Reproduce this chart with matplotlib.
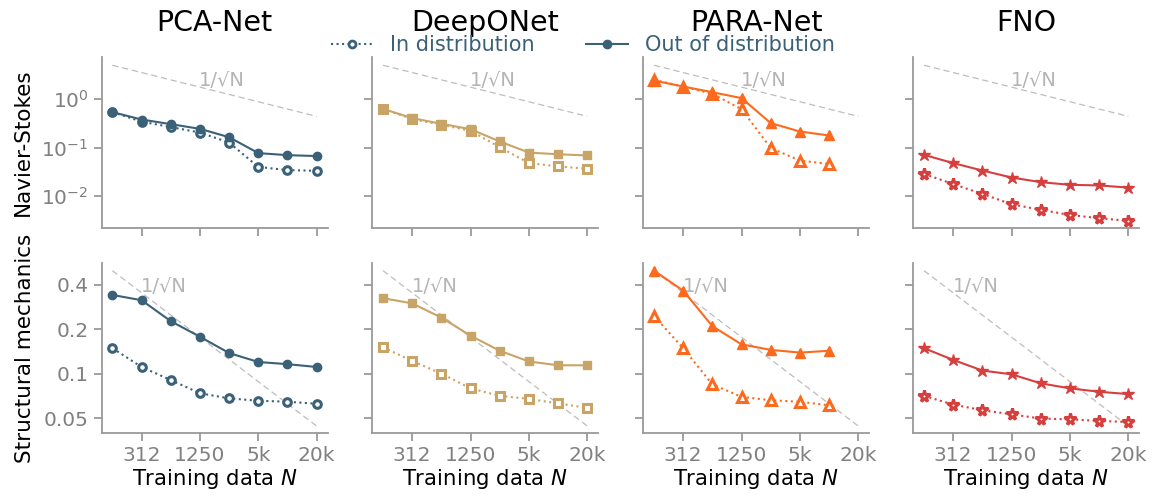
import numpy as np
import matplotlib
matplotlib.use("Agg")
import matplotlib.pyplot as plt
from matplotlib.ticker import FixedLocator, NullLocator, FixedFormatter, LogFormatterMathtext
from matplotlib.lines import Line2D

N = [156, 312, 625, 1250, 2500, 5000, 10000, 20000]
models = ["PCA-Net", "DeepONet", "PARA-Net", "FNO"]
rows = ["Navier-Stokes", "Structural mechanics"]
colors = ["#3a6178", "#c9a467", "#fd6a1e", "#d5403f"]
markers = ["o", "s", "^", "*"]

# Navier-Stokes
ns_ood = {
    "PCA-Net": [0.54, 0.38, 0.305, 0.244, 0.164, 0.077, 0.070, 0.067],
    "DeepONet": [0.63, 0.406, 0.31, 0.24, 0.134, 0.079, 0.073, 0.069],
    "PARA-Net": [2.42, 1.82, 1.39, 1.05, 0.32, 0.215, 0.178],
    "FNO": [0.071, 0.048, 0.0337, 0.0242, 0.0194, 0.0171, 0.0166, 0.0150],
}
ns_id = {
    "PCA-Net": [0.54, 0.345, 0.265, 0.205, 0.127, 0.040, 0.0344, 0.0332],
    "DeepONet": [0.63, 0.39, 0.295, 0.222, 0.102, 0.048, 0.041, 0.0366],
    "PARA-Net": [2.5, 1.82, 1.29, 0.62, 0.098, 0.054, 0.046],
    "FNO": [0.0288, 0.0177, 0.0111, 0.0068, 0.0052, 0.0041, 0.0035, 0.0031],
}
# Structural mechanics
sm_ood = {
    "PCA-Net": [0.342, 0.315, 0.227, 0.178, 0.138, 0.120, 0.116, 0.111],
    "DeepONet": [0.325, 0.30, 0.24, 0.181, 0.143, 0.121, 0.114, 0.114],
    "PARA-Net": [0.5, 0.366, 0.21, 0.158, 0.145, 0.139, 0.143],
    "FNO": [0.149, 0.124, 0.105, 0.099, 0.086, 0.0795, 0.0754, 0.0727],
}
sm_id = {
    "PCA-Net": [0.149, 0.111, 0.0905, 0.0736, 0.068, 0.0655, 0.0645, 0.0625],
    "DeepONet": [0.151, 0.122, 0.100, 0.0795, 0.0707, 0.0675, 0.0628, 0.0587],
    "PARA-Net": [0.246, 0.149, 0.0845, 0.0696, 0.066, 0.0645, 0.061],
    "FNO": [0.0707, 0.0617, 0.0565, 0.053, 0.0496, 0.049, 0.0478, 0.047],
}
ood_data = [ns_ood, sm_ood]
id_data = [ns_id, sm_id]
ref_scale = [5.0, 0.5]
ref_label_x = [0.532, 0.276]
xticks = [312, 1250, 5000, 20000]
xticklabels = ["312", "1250", "5k", "20k"]
sm_yticks = [0.05, 0.1, 0.2, 0.4]
sm_yticklabels = ["0.05", "0.1", "0.2", "0.4"]

W, H = 1153, 498
fig = plt.figure(figsize=(W / 100, H / 100), dpi=100)

lefts = [101.7, 372.3, 643.3, 913.3]
aw = 226
row_top = [57, 262.7]
row_bot = [228, 433.3]
tick_gray = "#808080"
spine_gray = "#9a9a9a"

axes = [[None] * 4 for _ in range(2)]
for r in range(2):
    for c in range(4):
        ax = fig.add_axes([lefts[c] / W, 1 - row_bot[r] / H, aw / W, (row_bot[r] - row_top[r]) / H])
        axes[r][c] = ax
        m = models[c]
        col = colors[c]
        mk = markers[c]
        ms = 9 if mk == "*" else (7 if mk == "^" else 6)
        n_pts = len(ood_data[r][m])
        x = N[:n_pts]
        ax.plot(x, id_data[r][m], ls=":", color=col, marker=mk, ms=ms - 0.5, mfc="white",
                mec=col, mew=2.2, lw=1.5, zorder=3)
        ax.plot(x, ood_data[r][m], ls="-", color=col, marker=mk, ms=ms, mfc=col,
                mec=col, lw=1.5, zorder=4)
        Narr = np.array(N, dtype=float)
        ax.plot(Narr, ref_scale[r] * np.sqrt(N[0] / Narr), ls=(0, (5, 3)), color="#bdbdbd",
                lw=0.9, zorder=2)
        ax.text(ref_label_x[r], 0.86, "1/\u221aN", transform=ax.transAxes, ha="center",
                va="center", color="#b4b4b4", fontsize=14)
        ax.set_xscale("log")
        ax.set_yscale("log")
        ax.set_xlim(121, 26000)
        if r == 0:
            ax.set_ylim(2.2e-3, 7.4)
            ax.yaxis.set_major_locator(FixedLocator([1e-2, 1e-1, 1e0]))
            ax.yaxis.set_major_formatter(LogFormatterMathtext())
        else:
            ax.set_ylim(0.0394, 0.566)
            ax.yaxis.set_major_locator(FixedLocator(sm_yticks))
            ax.yaxis.set_major_formatter(FixedFormatter(sm_yticklabels))
        ax.yaxis.set_minor_locator(NullLocator())
        ax.xaxis.set_major_locator(FixedLocator(xticks))
        ax.xaxis.set_minor_locator(NullLocator())
        if r == 1:
            ax.xaxis.set_major_formatter(FixedFormatter(xticklabels))
            ax.set_xlabel("Training data $N$", fontsize=15.3, labelpad=1)
        else:
            ax.set_xticklabels([])
        if c != 0:
            ax.set_yticklabels([])
        else:
            ax.set_ylabel(rows[r], fontsize=15.5, labelpad=6)
        for s in ["top", "right"]:
            ax.spines[s].set_visible(False)
        for s in ["left", "bottom"]:
            ax.spines[s].set_color(spine_gray)
            ax.spines[s].set_linewidth(1.3)
        ax.tick_params(axis="both", which="major", length=6, width=1.3, color=spine_gray,
                       labelcolor=tick_gray, labelsize=14.5)
        if r == 0:
            ax.set_title(m, fontsize=20.5, pad=19)

legend_handles = [
    Line2D([], [], ls=":", color=colors[0], marker="o", mfc="white", mec=colors[0], mew=2, ms=5, lw=1.5),
    Line2D([], [], ls="-", color=colors[0], marker="o", mfc=colors[0], mec=colors[0], ms=6, lw=1.5),
]
leg = fig.legend(legend_handles, ["In distribution", "Out of distribution"], loc="center",
                 bbox_to_anchor=(583 / W, 1 - 45 / H), ncol=2, frameon=False, fontsize=15,
                 handlelength=2.0, columnspacing=2.5, handletextpad=0.8)
for t in leg.get_texts():
    t.set_color(colors[0])

fig.savefig("out.png", dpi=100)
